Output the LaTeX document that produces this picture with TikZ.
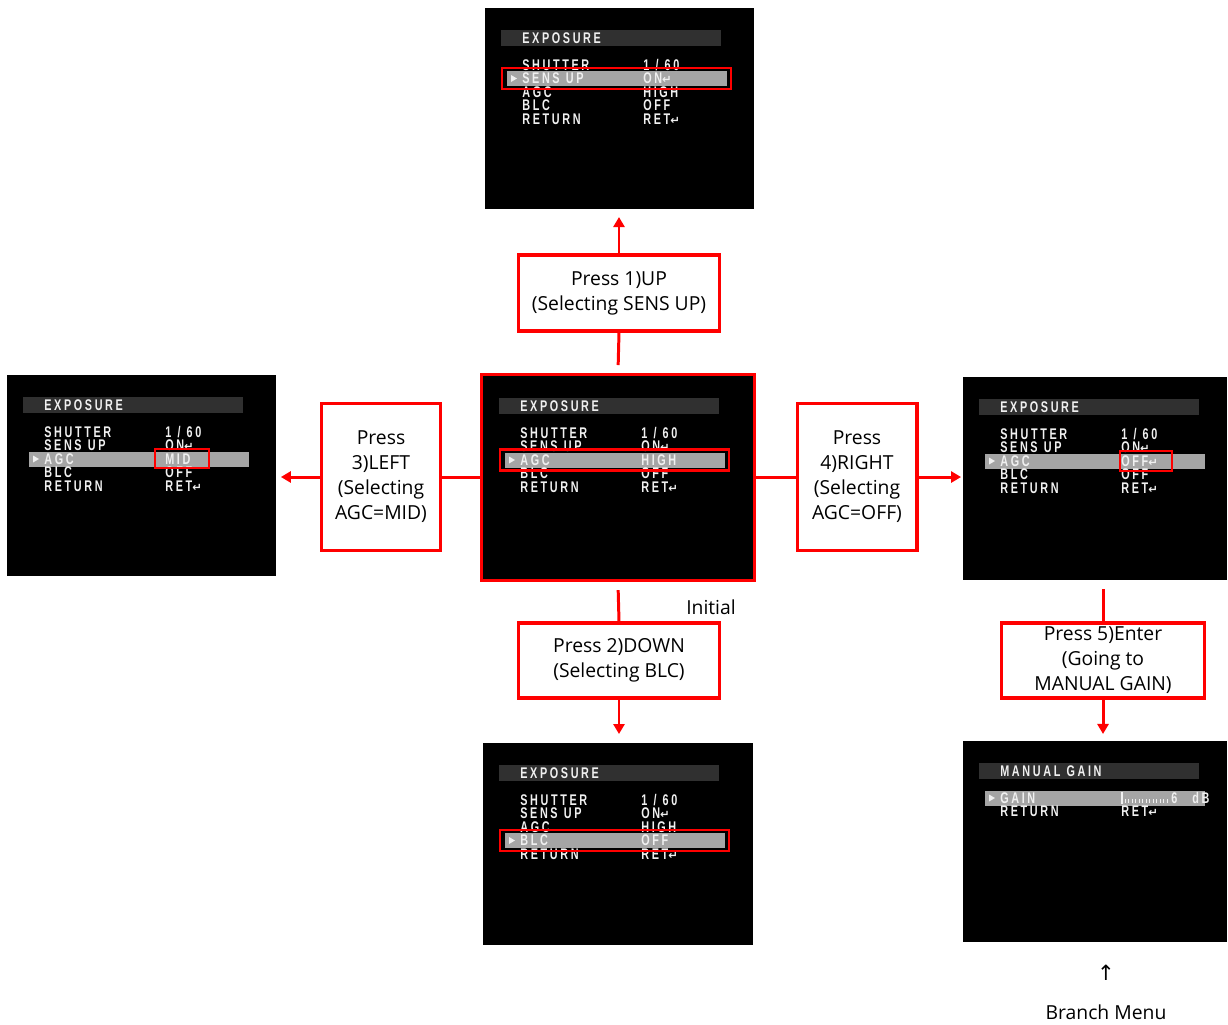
\documentclass[tikz,border=0pt]{standalone}
\usepackage{fontspec}
\setmainfont{Open Sans}
\newfontfamily\osdFont[FakeStretch=0.7,LetterSpace=17]{Liberation Sans}
\newfontfamily\symFont{DejaVu Sans}
\usetikzlibrary{positioning,arrows.meta,calc}
\newcommand{\px}{0.5669pt}
\definecolor{markRed}{RGB}{255,0,0}
\definecolor{osdHeaderGray}{RGB}{48,48,48}
\definecolor{osdBarGray}{RGB}{165,165,165}
\definecolor{osdWhite}{RGB}{240,240,240}
\tikzstyle{pixelGrid} = [x=0.02cm, y=-0.02cm]
\tikzstyle{screenStyle} = [fill=black, inner sep=0, outer sep=0, anchor=north west]
\tikzstyle{stepBox} = [draw=markRed, line width=2pt, fill=white, inner sep=0, align=center, font=\fontsize{11}{14.2}\selectfont]
\tikzstyle{linkLine} = [draw=markRed, line width=1.7pt]
\tikzstyle{linkArrow} = [linkLine, -{Triangle[length=5.7pt,width=6.3pt]}]
\tikzstyle{osdText} = [anchor=west, inner sep=0, text height=6.2pt, text depth=0pt, text=osdWhite, font=\osdFont\bfseries\fontsize{8.8}{8.8}\selectfont]
\tikzstyle{osdHeaderBar} = [fill=osdHeaderGray]
\tikzstyle{osdBar} = [fill=osdBarGray]
\tikzstyle{selectBox} = [draw=markRed, line width=1.4pt]
\tikzstyle{plainText} = [inner sep=0, font=\fontsize{11}{14.2}\selectfont]
\newcommand{\retMark}{{\symFont\bfseries\fontsize{6.5}{6.5}\selectfont ↵}}
\newcommand{\gap}{\hspace{3.5pt}}
\newcommand{\osdHeader}[2]{\fill[osdHeaderBar] (16,22) rectangle (236,38); \node[osdText] (#1Title) at (37,30) {#2};}
\newcommand{\osdRow}[4]{
  \node[osdText] (#1Label#2) at (37,{43.5+13.5*#2}) {#3};
  \node[osdText] (#1Value#2) at (158,{43.5+13.5*#2}) {#4};
}
\newcommand{\osdCursor}[1]{
  \fill[osdBar] (22,{36+13.5*#1}) rectangle (242,{51+13.5*#1});
  \fill[osdWhite] (26,{40+13.5*#1}) -- (32,{43.5+13.5*#1}) -- (26,{47+13.5*#1}) -- cycle;
}
\newcommand{\rowSelect}[1]{\draw[selectBox] (17,{33+13.5*#1}) rectangle (246,{54+13.5*#1});}
\newcommand{\exposureRows}[2]{
  \osdRow{#1}{1}{SHUTTER}{1\gap/\gap6\hspace{1.5pt}0}
  \osdRow{#1}{2}{SENS\gap UP}{ON\retMark}
  \osdRow{#1}{3}{AGC}{#2}
  \osdRow{#1}{4}{BLC}{OFF}
  \osdRow{#1}{5}{RETURN}{RET\retMark}
}

\begin{document}
\begin{tikzpicture}[pixelGrid]
  \useasboundingbox (0,0) rectangle (1228,1025);

  \node[screenStyle, minimum width=153.1pt, minimum height=114.5pt] (scrUp) at (485,8) {};
  \node[screenStyle, draw=markRed, line width=1.7pt, minimum width=155.3pt, minimum height=117.3pt] (scrInit) at (481.5,374.5) {};
  \node[screenStyle, minimum width=153.1pt, minimum height=114.5pt] (scrLeft) at (7,375) {};
  \node[screenStyle, minimum width=150.2pt, minimum height=115.6pt] (scrRight) at (963,377) {};
  \node[screenStyle, minimum width=153.6pt, minimum height=115.1pt] (scrDown) at (483,743) {};
  \node[screenStyle, minimum width=150.2pt, minimum height=114.5pt] (scrGain) at (963,741) {};

  \begin{scope}[shift={(scrUp.north west)}]
    \osdHeader{up}{EXPOSURE}
    \osdCursor{2}
    \exposureRows{up}{HIGH}
    \rowSelect{2}
  \end{scope}

  \begin{scope}[shift={($(scrInit.north west)+(1.5,1.5)$)}]
    \osdHeader{init}{EXPOSURE}
    \osdCursor{3}
    \exposureRows{init}{HIGH}
    \rowSelect{3}
  \end{scope}

  \begin{scope}[shift={(scrLeft.north west)}]
    \osdHeader{left}{EXPOSURE}
    \osdCursor{3}
    \exposureRows{left}{MID}
    \draw[selectBox] (148,74) rectangle (202,93);
  \end{scope}

  \begin{scope}[shift={(scrRight.north west)}]
    \osdHeader{right}{EXPOSURE}
    \osdCursor{3}
    \exposureRows{right}{OFF\retMark}
    \draw[selectBox] (157,74) rectangle (209,94);
  \end{scope}

  \begin{scope}[shift={(scrDown.north west)}]
    \osdHeader{down}{EXPOSURE}
    \osdCursor{4}
    \exposureRows{down}{HIGH}
    \rowSelect{4}
  \end{scope}

  \begin{scope}[shift={(scrGain.north west)}]
    \osdHeader{gain}{MANUAL\gap GAIN}
    \osdCursor{1}
    \osdRow{gain}{1}{GAIN}{}
    \osdRow{gain}{2}{RETURN}{RET\retMark}
    \draw[osdWhite, line width=0.7pt] (159,51) -- (159,63);
    \foreach \tick in {0,...,12} {
      \draw[osdWhite, line width=0.45pt] ({162+3.5*\tick},58) -- ++(0,4);
    }
    \node[osdText] (gainNumber) at (208,57) {6};
    \node[osdText] (gainUnit) at (229,57) {dB};
  \end{scope}

  \node[stepBox, minimum width=114.5pt, minimum height=43.1pt] (boxUp) at (619,293) {Press 1)UP\\(Selecting SENS UP)};
  \node[stepBox, minimum width=68pt, minimum height=83.9pt] (boxLeft) at (381,477) {Press\\3)LEFT\\(Selecting\\AGC=MID)};
  \node[stepBox, minimum width=68pt, minimum height=83.9pt] (boxRight) at (857,477) {Press\\4)RIGHT\\(Selecting\\AGC=OFF)};
  \node[stepBox, minimum width=114.5pt, minimum height=42.5pt] (boxDown) at (619,660.5) {Press 2)DOWN\\(Selecting BLC)};
  \node[stepBox, minimum width=115.6pt, minimum height=42.5pt] (boxEnter) at (1103,660.5) {Press 5)Enter\\(Going to\\MANUAL GAIN)};

  \draw[linkLine, shorten <=5.4pt] (scrInit.north) -- (boxUp.south);
  \draw[linkArrow, shorten >=4.5pt] (boxUp.north) -- (boxUp.north |- scrUp.south);
  \draw[linkLine] (scrInit.west |- boxLeft.east) -- (boxLeft.east);
  \draw[linkArrow, shorten >=2.8pt] (boxLeft.west) -- (boxLeft.west -| scrLeft.east);
  \draw[linkLine] (scrInit.east |- boxRight.west) -- (boxRight.west);
  \draw[linkArrow, shorten >=1.1pt] (boxRight.east) -- (boxRight.east -| scrRight.west);
  \draw[linkLine, shorten <=5.4pt] (scrInit.south) -- (boxDown.north);
  \draw[linkArrow, shorten >=5.1pt] (boxDown.south) -- (boxDown.south |- scrDown.north);
  \draw[linkLine, shorten <=5.1pt] (boxEnter.north |- scrRight.south) -- (boxEnter.north);
  \draw[linkArrow, shorten >=4pt] (boxEnter.south) -- (boxEnter.south |- scrGain.north);

  \node[plainText] (initLabel) at (711,607) {Initial};
  \node[plainText, font=\symFont\fontsize{12}{12}\selectfont] (branchArrow) at (1106,973) {↑};
  \node[plainText] (branchLabel) at (1106,1012) {Branch Menu};
\end{tikzpicture}
\end{document}
